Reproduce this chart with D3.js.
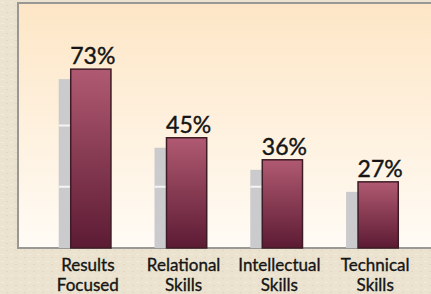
<!DOCTYPE html>
<html>
<head>
<meta charset="utf-8">
<script src="https://cdn.jsdelivr.net/npm/d3@7"></script>
<style>
body { margin: 0; background: #e9e0cb; }
svg { display: block; }
.val { font-family: Lato, "Open Sans", sans-serif; font-size: 23px; fill: #151515; stroke: #151515; stroke-width: 0.4; }
.cat { font-family: Lato, "Open Sans", sans-serif; font-size: 17px; fill: #151515; stroke: #151515; stroke-width: 0.35; }
</style>
</head>
<body>
<svg id="chart"></svg>
<script>
var categories = [["Results", "Focused"], ["Relational", "Skills"], ["Intellectual", "Skills"], ["Technical", "Skills"]];
var values = [73, 45, 36, 27];
var valueLabels = ["73%", "45%", "36%", "27%"];
var gridTicks = [25, 50, 75];

var w = 431, h = 294;
var svg = d3.select("#chart").attr("width", w).attr("height", h);

var defs = svg.append("defs");

// textured backdrop, faint speckle
var pat = defs.append("pattern")
    .attr("id", "paper")
    .attr("width", 9).attr("height", 7)
    .attr("patternUnits", "userSpaceOnUse");
pat.append("rect").attr("width", 9).attr("height", 7).attr("fill", "#ebe3cf");
pat.append("rect").attr("x", 1).attr("y", 2).attr("width", 3).attr("height", 1).attr("fill", "#f1ebdc");
pat.append("rect").attr("x", 6).attr("y", 5).attr("width", 2).attr("height", 1).attr("fill", "#e2d8c1");

var panelGrad = defs.append("linearGradient").attr("id", "panel")
    .attr("x1", 0).attr("y1", 0).attr("x2", 0).attr("y2", 1);
panelGrad.append("stop").attr("offset", "0%").attr("stop-color", "#fde6c6");
panelGrad.append("stop").attr("offset", "100%").attr("stop-color", "#fffbf5");

var barGrad = defs.append("linearGradient").attr("id", "bar")
    .attr("x1", 0).attr("y1", 0).attr("x2", 0).attr("y2", 1);
barGrad.append("stop").attr("offset", "0%").attr("stop-color", "#b05a72");
barGrad.append("stop").attr("offset", "100%").attr("stop-color", "#5c1b33");

svg.append("rect").attr("width", w).attr("height", h).attr("fill", "url(#paper)");

var panel = { left: 18, top: 3, bottom: 248 };

svg.append("rect")
    .attr("x", panel.left).attr("y", panel.top)
    .attr("width", w - panel.left + 5).attr("height", panel.bottom - panel.top)
    .attr("fill", "url(#panel)")
    .attr("stroke", "#9a9894")
    .attr("stroke-width", 2);

var x = d3.scaleBand()
    .domain(d3.range(values.length))
    .range([42, 427])
    .paddingInner(0.58)
    .paddingOuter(0.3);

var y = d3.scaleLinear()
    .domain([0, 100])
    .range([panel.bottom, 3]);

var g = svg.append("g");

// grey drop-shadow bars behind
var shadowDx = -12, shadowDy = 10;
g.selectAll(".shadow")
    .data(values)
    .enter()
    .append("rect")
    .attr("class", "shadow")
    .attr("x", function(d, i) { return x(i) + shadowDx; })
    .attr("y", function(d) { return y(d) + shadowDy; })
    .attr("width", x.bandwidth())
    .attr("height", function(d) { return panel.bottom - y(d) - shadowDy; })
    .attr("fill", "#cbcbce");

// white grid lines only show on the shadows
values.forEach(function(v, i) {
    gridTicks.forEach(function(t) {
        if (y(t) > y(v) + shadowDy) {
            g.append("line")
                .attr("x1", x(i) + shadowDx).attr("x2", x(i))
                .attr("y1", y(t)).attr("y2", y(t))
                .attr("stroke", "#f4f4f4")
                .attr("stroke-width", 2);
        }
    });
});

g.selectAll(".bar")
    .data(values)
    .enter()
    .append("rect")
    .attr("class", "bar")
    .attr("x", function(d, i) { return x(i); })
    .attr("y", function(d) { return y(d); })
    .attr("width", x.bandwidth())
    .attr("height", function(d) { return panel.bottom - y(d); })
    .attr("fill", "url(#bar)")
    .attr("stroke", "#3e1c25")
    .attr("stroke-width", 1.5);

g.selectAll(".val")
    .data(values)
    .enter()
    .append("text")
    .attr("class", "val")
    .attr("x", function(d, i) { return x(i) + x.bandwidth() / 2 + 2; })
    .attr("y", function(d) { return y(d) - 5; })
    .attr("text-anchor", "middle")
    .text(function(d, i) { return valueLabels[i]; });

var cats = g.selectAll(".cat")
    .data(categories)
    .enter()
    .append("text")
    .attr("class", "cat")
    .attr("text-anchor", "middle")
    .attr("y", 271);

cats.append("tspan")
    .attr("x", function(d, i) { return x(i) + x.bandwidth() / 2 - 3; })
    .text(function(d) { return d[0]; });
cats.append("tspan")
    .attr("x", function(d, i) { return x(i) + x.bandwidth() / 2 - 3; })
    .attr("dy", 20)
    .text(function(d) { return d[1]; });
</script>
</body>
</html>
